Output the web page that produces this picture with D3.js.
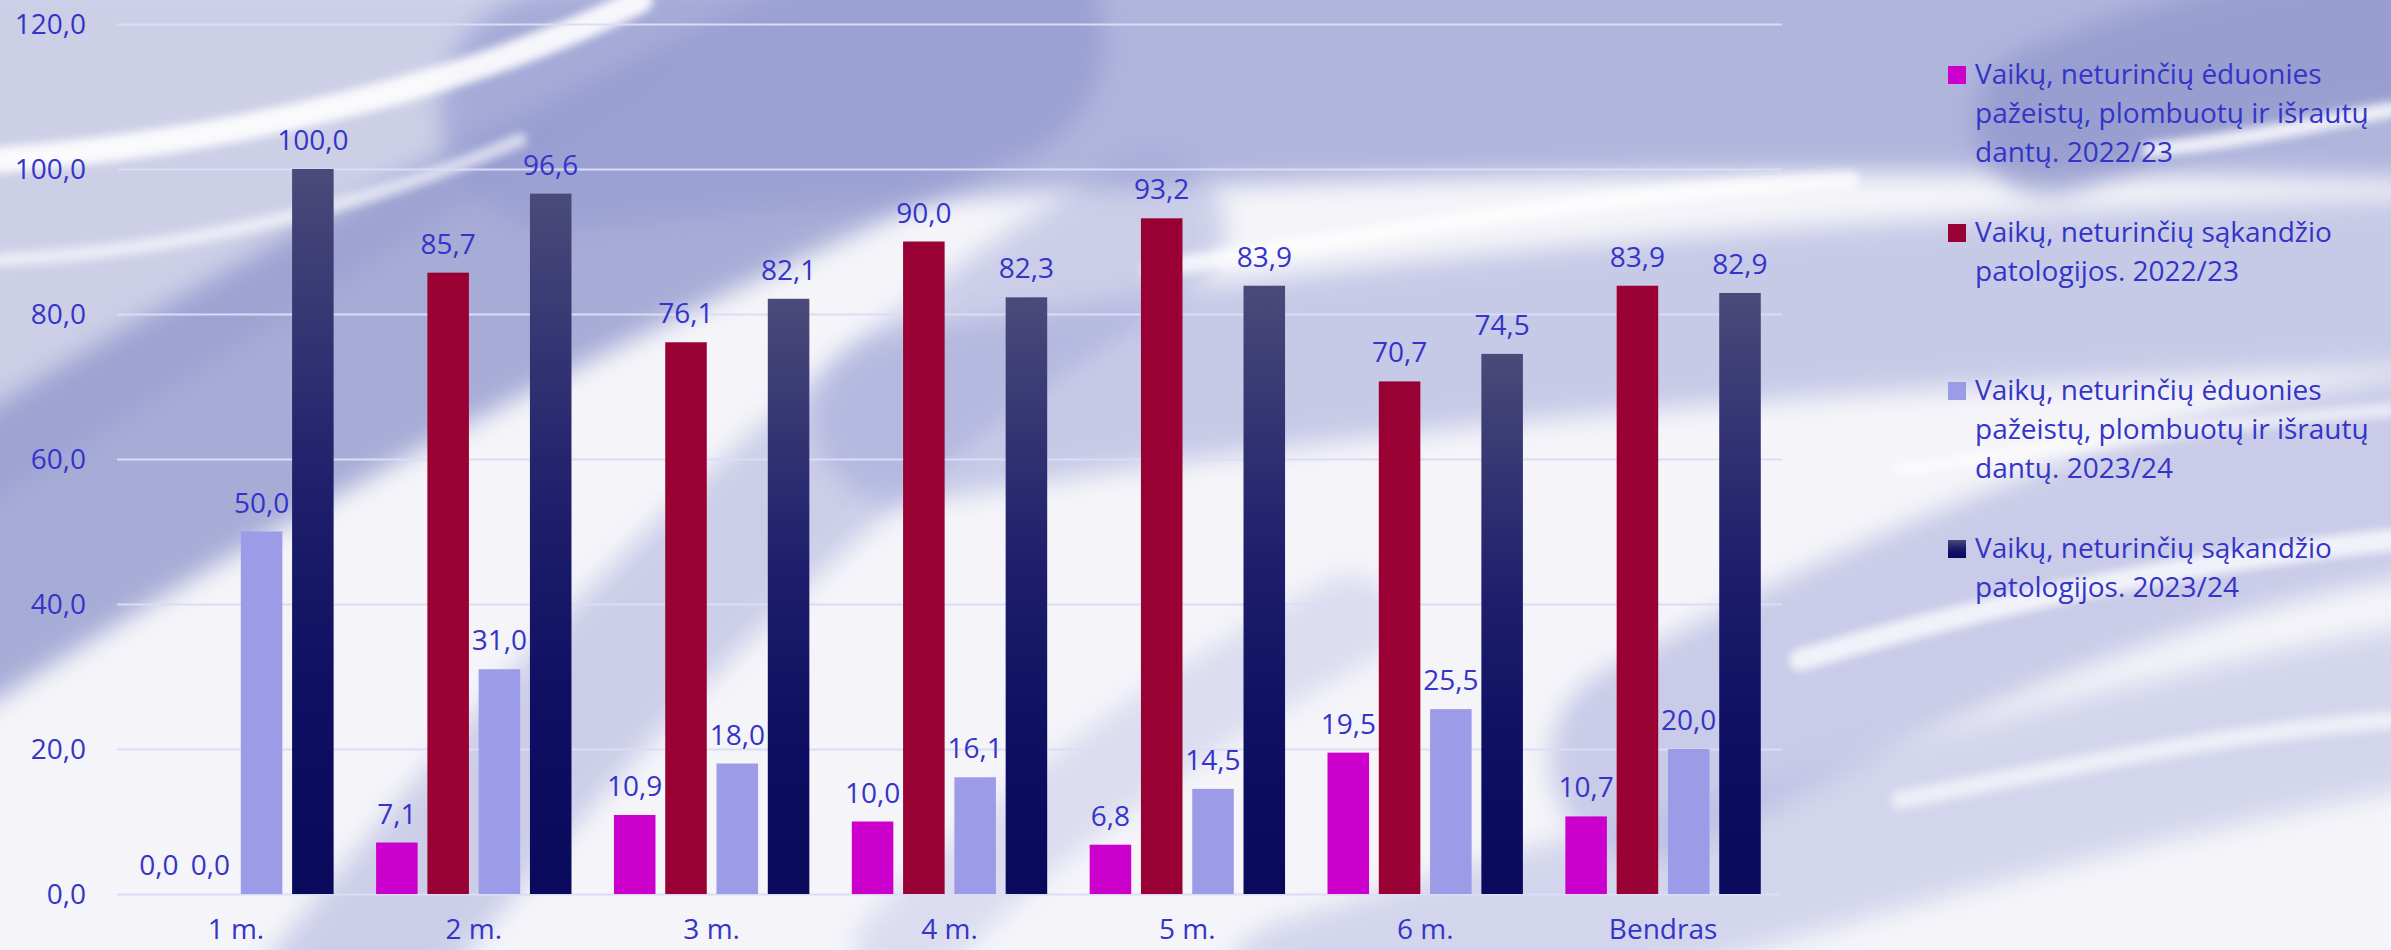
<!DOCTYPE html>
<html><head><meta charset="utf-8">
<script src="https://cdn.jsdelivr.net/npm/d3@7"></script>
<style>
html,body{margin:0;padding:0;background:#f3f3f8;}
svg{display:block;}
text{font-family:"Open Sans",sans-serif;}
</style></head>
<body>
<svg id="chart" width="2391" height="950"></svg>
<script>
const categories = ["1 m.","2 m.","3 m.","4 m.","5 m.","6 m.","Bendras"];
const seriesNames = ["edu2223","sak2223","edu2324","sak2324"];
const edu2223 = [0.0, 7.1, 10.9, 10.0, 6.8, 19.5, 10.7];
const sak2223 = [0.0, 85.7, 76.1, 90.0, 93.2, 70.7, 83.9];
const edu2324 = [50.0, 31.0, 18.0, 16.1, 14.5, 25.5, 20.0];
const sak2324 = [100.0, 96.6, 82.1, 82.3, 83.9, 74.5, 82.9];
const yTicks = [0, 20, 40, 60, 80, 100, 120];
const legendLabels = [
  ["Vaikų, neturinčių ėduonies","pažeistų, plombuotų ir išrautų","dantų. 2022/23"],
  ["Vaikų, neturinčių sąkandžio","patologijos. 2022/23"],
  ["Vaikų, neturinčių ėduonies","pažeistų, plombuotų ir išrautų","dantų. 2023/24"],
  ["Vaikų, neturinčių sąkandžio","patologijos. 2023/24"]
];
const seriesValues = [edu2223, sak2223, edu2324, sak2324];
const colors = ["#cc00cc", "#990033", "#9b9be8", "url(#navyGrad)"];
const textColor = "#3434c8";

(function(){
const svg = d3.select("#chart");
const W = 2391, H = 950;
const defs = svg.append("defs");
const g1 = defs.append("linearGradient").attr("id","navyGrad").attr("x1",0).attr("y1",0).attr("x2",0).attr("y2",1);
g1.append("stop").attr("offset","0%").attr("stop-color","#4a4a7a");
g1.append("stop").attr("offset","45%").attr("stop-color","#1e1e6c");
g1.append("stop").attr("offset","75%").attr("stop-color","#0e0e62");
g1.append("stop").attr("offset","100%").attr("stop-color","#0a0a5c");
const mkFilter = (id, sd) => {
  const f = defs.append("filter").attr("id", id).attr("filterUnits","userSpaceOnUse")
    .attr("x",-400).attr("y",-400).attr("width",3200).attr("height",1800);
  f.append("feGaussianBlur").attr("stdDeviation", sd);
};
mkFilter("soft", 12);
mkFilter("soft2", 4);

// background decoration
const bg = svg.append("g");
bg.append("rect").attr("width",W).attr("height",H).attr("fill","#f4f4f9");
const strokes = [
  {d:"M-100,-20 L820,-20 L-100,560 Z", fill:"#c9cbe6", o:0.9, f:"soft"},
  {d:"M-80,600 C200,420 520,240 980,40", w:250, c:"#8e94cb", o:0.75, f:"soft"},
  {d:"M330,1000 C560,720 800,440 1150,230", w:150, c:"#a6aad9", o:0.5, f:"soft"},
  {d:"M560,110 C1000,60 1700,40 2450,60", w:240, c:"#979dd2", o:0.72, f:"soft"},
  {d:"M900,420 C1400,330 1900,300 2450,280", w:170, c:"#a3a8d8", o:0.55, f:"soft"},
  {d:"M1650,760 C1950,600 2200,500 2450,470", w:200, c:"#adb1dd", o:0.6, f:"soft"},
  {d:"M1300,1000 C1700,880 2100,760 2450,700", w:160, c:"#b4b8e0", o:0.5, f:"soft"},
  {d:"M2050,120 C2200,60 2300,40 2450,30", w:150, c:"#8f95cb", o:0.7, f:"soft"},
  {d:"M0,160 C250,140 480,80 640,0", w:26, c:"#ffffff", o:0.9, f:"soft2"},
  {d:"M0,260 C200,250 380,200 520,140", w:14, c:"#ffffff", o:0.6, f:"soft2"},
  {d:"M1150,270 C1450,220 1650,190 1850,180", w:18, c:"#ffffff", o:0.75, f:"soft2"},
  {d:"M2150,150 C2250,140 2330,120 2391,110", w:16, c:"#ffffff", o:0.8, f:"soft2"},
  {d:"M1800,660 C2000,600 2200,560 2391,540", w:22, c:"#ffffff", o:0.75, f:"soft2"},
  {d:"M1900,470 C2100,440 2250,420 2391,410", w:14, c:"#ffffff", o:0.6, f:"soft2"},
  {d:"M1900,800 C2100,760 2250,730 2391,720", w:18, c:"#ffffff", o:0.6, f:"soft2"},
  {d:"M900,950 C1050,800 1200,700 1350,620", w:90, c:"#c3c6e6", o:0.5, f:"soft"}
];
strokes.forEach(s => {
  const p = bg.append("path").attr("d", s.d).attr("filter","url(#"+s.f+")").attr("opacity", s.o);
  if (s.fill) p.attr("fill", s.fill);
  else p.attr("fill","none").attr("stroke", s.c).attr("stroke-width", s.w).attr("stroke-linecap","round");
});

const pl = 117, pr = 1782, pt = 24, pb = 894;
const x0 = d3.scaleBand().domain(categories).range([pl, pr]).padding(0);
const x1 = d3.scaleBand().domain(seriesNames).range([0, x0.bandwidth()]).paddingInner(0.19).paddingOuter(0.414);
const y = d3.scaleLinear().domain([0, 120]).range([pb, pt]);
const fmt = v => d3.format(".1f")(v).replace(".", ",");

// y axis + gridlines
const yAxis = svg.append("g").attr("transform", `translate(${pl},0)`)
  .call(d3.axisLeft(y).tickValues(yTicks).tickSize(-(pr-pl)).tickPadding(31).tickFormat(fmt));
yAxis.select(".domain").remove();
yAxis.selectAll(".tick line").attr("stroke","#dcdcf6").attr("stroke-width",2);
yAxis.selectAll(".tick text").attr("fill",textColor).attr("font-size",28).attr("font-family","Open Sans").attr("dy","0.35em");

// bars
const groups = svg.append("g").selectAll("g").data(categories).join("g")
  .attr("transform", d => `translate(${x0(d)},0)`);
seriesNames.forEach((s, si) => {
  groups.append("rect")
    .attr("x", x1(s))
    .attr("width", x1.bandwidth())
    .attr("y", (d, i) => y(seriesValues[si][i]))
    .attr("height", (d, i) => y(0) - y(seriesValues[si][i]))
    .attr("fill", colors[si]);
  groups.append("text")
    .attr("x", x1(s) + x1.bandwidth()/2)
    .attr("y", (d, i) => y(seriesValues[si][i]) - 19)
    .attr("text-anchor","middle")
    .attr("fill", textColor).attr("font-size", 28)
    .text((d, i) => fmt(seriesValues[si][i]));
});

// x labels
svg.append("g").selectAll("text").data(categories).join("text")
  .attr("x", d => x0(d) + x0.bandwidth()/2)
  .attr("y", 939)
  .attr("text-anchor","middle")
  .attr("fill", textColor).attr("font-size", 28)
  .text(d => d);

// legend
const legend = svg.append("g").attr("transform","translate(1948,84)");
legendLabels.forEach((lines, i) => {
  const it = legend.append("g").attr("transform", `translate(0,${i*158})`);
  it.append("rect").attr("x",0).attr("y",-18).attr("width",18).attr("height",18).attr("fill",colors[i]);
  const t = it.append("text").attr("x",27).attr("y",0).attr("fill",textColor).attr("font-size",28);
  lines.forEach((ln, k) => t.append("tspan").attr("x",27).attr("y", k*39).text(ln));
});
})();
</script>
</body></html>
